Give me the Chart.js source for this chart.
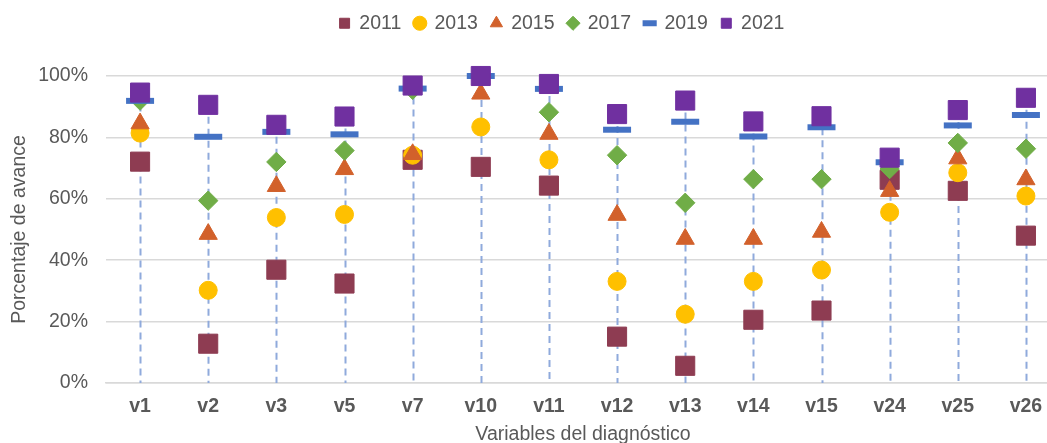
<!DOCTYPE html>
<html>
<head>
<meta charset="utf-8">
<script src="https://cdn.jsdelivr.net/npm/chart.js@4/dist/chart.umd.min.js"></script>
<style>
  html, body { margin: 0; padding: 0; background: #ffffff; overflow: hidden; }
  #wrap { width: 1124px; height: 450px; }
</style>
</head>
<body>
<div id="wrap"><canvas id="chart" width="1124" height="450"></canvas></div>
<script>
const categories = ['v1', 'v2', 'v3', 'v5', 'v7', 'v10', 'v11', 'v12', 'v13', 'v14', 'v15', 'v24', 'v25', 'v26'];
const years = ['2011', '2013', '2015', '2017', '2019', '2021'];

const values2011 = [72.1, 12.8, 36.9, 32.4, 72.7, 70.4, 64.3, 15.1, 5.6, 20.6, 23.6, 66.2, 62.6, 48.0];
const values2013 = [81.4, 30.2, 53.9, 54.9, 74.2, 83.4, 72.7, 33.1, 22.4, 33.1, 36.8, 55.6, 68.5, 60.9];
const values2015 = [84.5, 48.5, 64.1, 69.6, 74.5, 94.2, 81.1, 54.7, 46.9, 46.9, 49.2, 62.5, 73.1, 66.3];
const values2017 = [92.0, 59.4, 72.0, 75.7, 95.5, 100, 88.2, 74.2, 58.7, 66.4, 66.4, 69.7, 78.2, 76.3];
const values2019 = [91.9, 80.2, 81.8, 81.0, 95.9, 100, 95.8, 82.5, 85.1, 80.3, 83.3, 71.9, 83.9, 87.3];
const values2021 = [94.6, 90.6, 84.1, 86.8, 96.9, 100, 97.4, 87.6, 92.0, 85.2, 86.9, 73.4, 88.9, 92.9];

const yTicks = [0, 20, 40, 60, 80, 100];

const colors = {
  y2011: '#8E3C52',
  y2013: '#FFC000',
  y2015: '#D2612B',
  y2017: '#70AD47',
  y2019: '#4472C4',
  y2021: '#7030A0',
  drop: '#8FAADC',
  grid: '#D9D9D9',
  text: '#595959'
};

Chart.defaults.font.family = '"Liberation Sans", Arial, sans-serif';
Chart.defaults.font.size = 19.5;
Chart.defaults.color = colors.text;

function series(label, data, color, style, radius, order, extra) {
  return Object.assign({
    label,
    data,
    showLine: false,
    pointStyle: style,
    pointRadius: radius,
    pointHoverRadius: radius,
    pointBackgroundColor: color,
    pointBorderColor: color,
    pointBorderWidth: 1,
    backgroundColor: color,
    borderColor: color,
    order,
    clip: false
  }, extra || {});
}

// drop lines from the top point of each category down to 0
const dropLines = {
  id: 'dropLines',
  beforeDatasetsDraw(chart) {
    const { ctx, scales: { x, y } } = chart;
    const all = chart.data.datasets.map(d => d.data);
    ctx.save();
    ctx.strokeStyle = colors.drop;
    ctx.lineWidth = 2;
    ctx.setLineDash([7, 5]);
    categories.forEach((c, i) => {
      const top = Math.max(...all.map(a => a[i]));
      const px = Math.round(x.getPixelForValue(i)) + 0.5;
      ctx.beginPath();
      ctx.moveTo(px, y.getPixelForValue(top));
      ctx.lineTo(px, y.getPixelForValue(0));
      ctx.stroke();
    });
    ctx.restore();
  }
};

const legendSpacer = {
  id: 'legendSpacer',
  beforeInit(chart) {
    const fit = chart.legend.fit;
    chart.legend.fit = function () {
      fit.bind(chart.legend)();
      this.height = 76;
    };
  }
};

new Chart(document.getElementById('chart'), {
  type: 'line',
  data: {
    labels: categories,
    datasets: [
      series(years[0], values2011, colors.y2011, 'rect', 13.5, 6),
      series(years[1], values2013, colors.y2013, 'circle', 9, 5),
      series(years[2], values2015, colors.y2015, 'triangle', 10.5, 4),
      series(years[3], values2017, colors.y2017, 'rectRot', 9.7, 3),
      series(years[4], values2019, colors.y2019, 'line', 14, 2, { pointBorderWidth: 6 }),
      series(years[5], values2021, colors.y2021, 'rect', 13.5, 1)
    ]
  },
  options: {
    responsive: false,
    animation: false,
    layout: { padding: 0 },
    plugins: {
      legend: {
        position: 'top',
        labels: {
          usePointStyle: true,
          boxWidth: 10,
          boxHeight: 10,
          padding: 13.5,
          color: colors.text,
          sort: (a, b) => a.datasetIndex - b.datasetIndex
        }
      },
      tooltip: { enabled: false }
    },
    scales: {
      x: {
        type: 'category',
        offset: true,
        afterFit(scale) { scale.height = 67; },
        grid: { display: false, drawTicks: false },
        border: { display: true, color: colors.grid, width: 1.5 },
        ticks: { padding: 12, color: colors.text, font: { weight: 'bold', size: 19.5 } },
        title: { display: true, text: 'Variables del diagnóstico', color: colors.text, font: { size: 19.5 }, padding: { top: 4, bottom: 4 } }
      },
      y: {
        min: 0,
        max: 100,
        afterFit(scale) { scale.width = 106; },
        afterBuildTicks(scale) { scale.ticks = yTicks.map(v => ({ value: v })); },
        grid: { color: colors.grid, lineWidth: 1.5, drawTicks: false },
        border: { display: false },
        ticks: { padding: 18, color: colors.text, callback: v => v + '%' },
        title: { display: true, text: 'Porcentaje de avance', color: colors.text, font: { size: 19.5 }, padding: { top: 8, bottom: 0 } }
      },
      pad: {
        position: 'right',
        afterFit(scale) { scale.width = 64; },
        grid: { display: false, drawOnChartArea: false },
        border: { display: false },
        ticks: { display: false }
      }
    }
  },
  plugins: [dropLines, legendSpacer]
});
</script>
</body>
</html>
